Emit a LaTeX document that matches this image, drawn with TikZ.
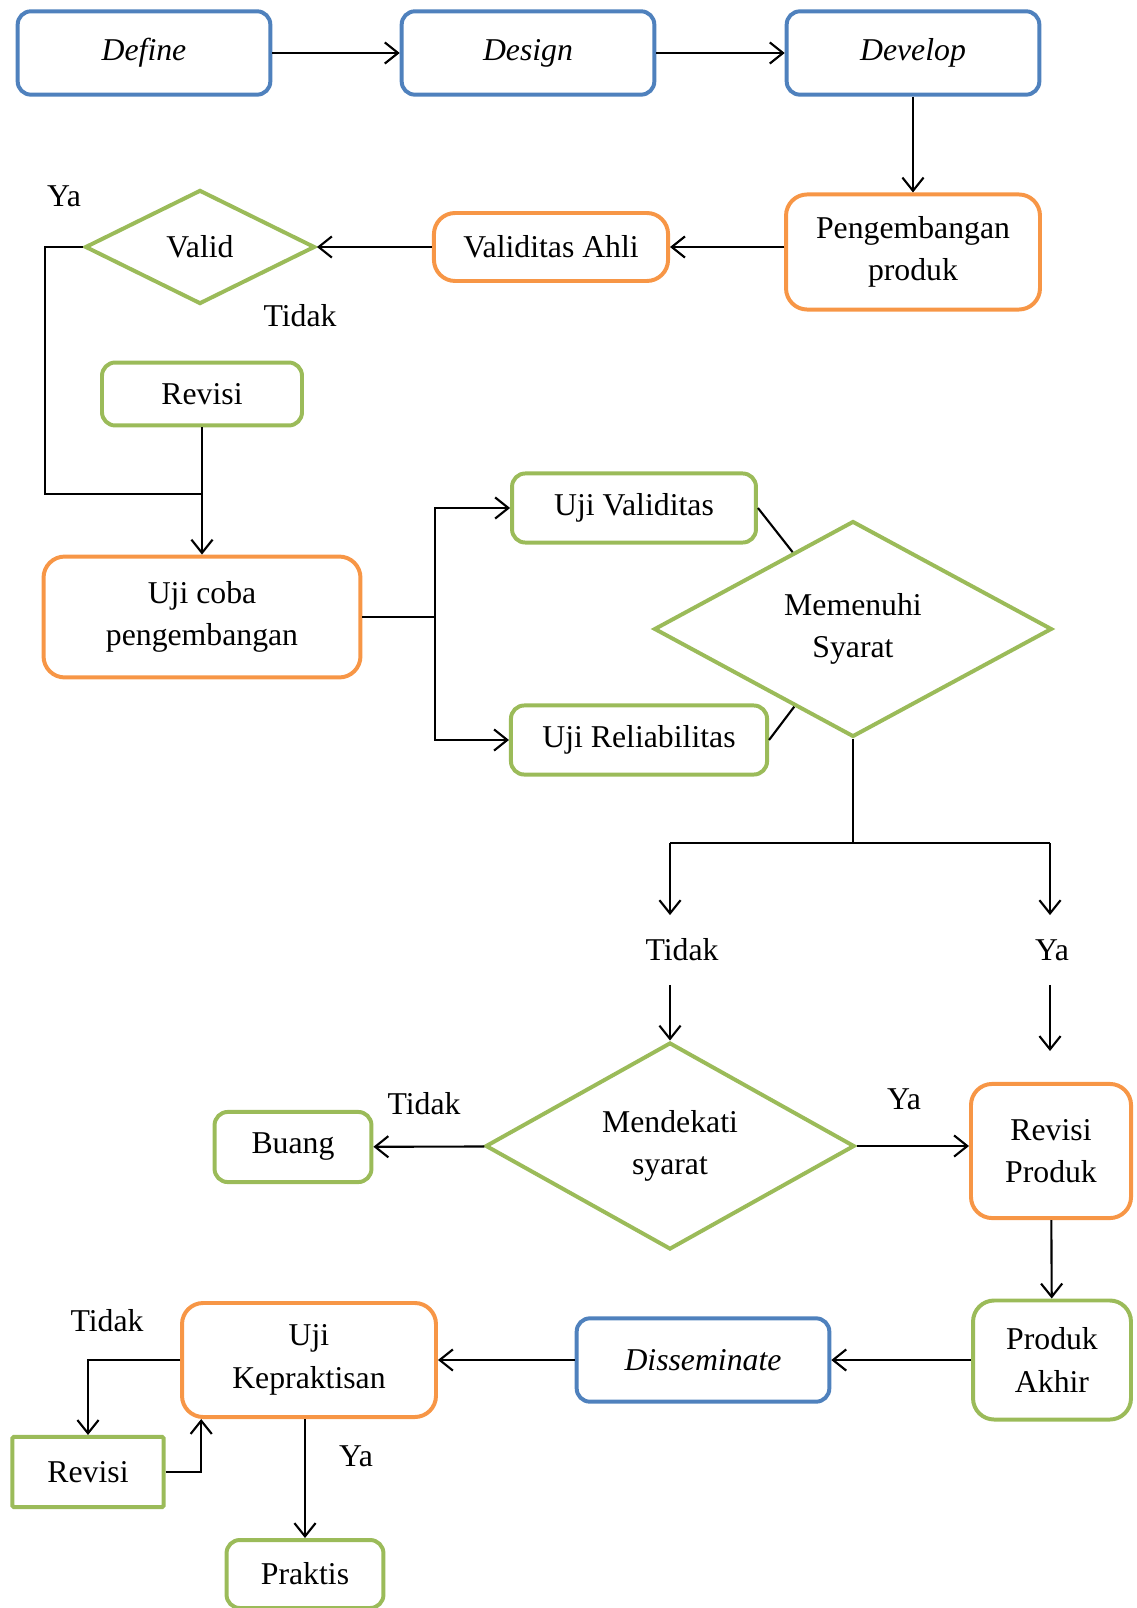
\documentclass[tikz,border=0pt]{standalone}
\usepackage{fontspec}
\setmainfont{Liberation Serif}
\usetikzlibrary{arrows.meta,positioning,calc,shapes.geometric}
\definecolor{StageBlue}{HTML}{4F81BD}
\definecolor{StepOrange}{HTML}{F79646}
\definecolor{CheckGreen}{HTML}{9BBB59}

\begin{document}
\begin{tikzpicture}[x=0.378pt,y=-0.378pt,>={Straight Barb[length=5pt,width=8pt]},
  txt/.style={font=\fontsize{12}{16}\selectfont,align=center},
  stage/.style={txt,draw=StageBlue,line width=1.5pt,rounded corners=5pt,
    font=\fontsize{12}{16}\selectfont\itshape,minimum width=95.5pt,minimum height=31.5pt},
  stepbox/.style={txt,draw=StepOrange,line width=1.5pt,rounded corners=8pt},
  checkbox/.style={txt,draw=CheckGreen,line width=1.5pt,rounded corners=5pt},
  decision/.style={txt,draw=CheckGreen,line width=1.5pt,diamond,inner sep=0pt},
  link/.style={line width=0.8pt}]
  \useasboundingbox (0,0) rectangle (1136,1608);

  % tahap utama
  \node[stage] (define) at (144,53) {Define};
  \node[stage] (design) at (528,53) {Design};
  \node[stage] (develop) at (913,53) {Develop};

  \node[stepbox,minimum width=96pt,minimum height=43.5pt] (produk) at (913,252) {Pengembangan\\produk};
  \node[stepbox,minimum width=88.5pt,minimum height=25.7pt] (ahli) at (551,247) {Validitas Ahli};
  \node[decision,minimum width=86.9pt,minimum height=43.1pt] (valid) at (200,247) {Valid};
  \node[checkbox,minimum width=75.6pt,minimum height=23.8pt] (revisiA) at (202,394) {Revisi};
  \node[stepbox,minimum width=119.8pt,minimum height=45.7pt] (ujicoba) at (202,617) {Uji coba\\pengembangan};

  \node[checkbox,minimum width=92.2pt,minimum height=26.1pt] (ujival) at (634,508) {Uji Validitas};
  \node[checkbox,minimum width=96.8pt,minimum height=26.1pt] (ujirel) at (639,740) {Uji Reliabilitas};
  \node[decision,minimum width=150.4pt,minimum height=81.6pt] (syarat) at (853,629) {Memenuhi\\Syarat};

  \node[decision,minimum width=139.5pt,minimum height=77.5pt] (dekat) at (670,1146) {Mendekati\\syarat};
  \node[checkbox,minimum width=59.3pt,minimum height=26.5pt] (buang) at (293,1147) {Buang};
  \node[stepbox,minimum width=60.5pt,minimum height=50.7pt] (revprod) at (1051,1151) {Revisi\\Produk};
  \node[checkbox,rounded corners=8pt,minimum width=59.7pt,minimum height=45pt] (akhir) at (1052,1360) {Produk\\Akhir};

  \node[stage] (dissem) at (703,1360) {Disseminate};
  \node[stepbox,minimum width=96pt,minimum height=43.1pt] (praktik) at (309,1360) {Uji\\Kepraktisan};
  \node[checkbox,rounded corners=0.5pt,minimum width=57.1pt,minimum height=26.5pt] (revisiB) at (88,1472) {Revisi};
  \node[checkbox,minimum width=59.3pt,minimum height=25.7pt] (praktis) at (305,1574) {Praktis};

  % label keputusan
  \node[txt] (yaA) at (64,196) {Ya};
  \node[txt] (tidakA) at (300,316) {Tidak};
  \node[txt,minimum height=26pt] (tidakB) at (682,950) {Tidak};
  \node[txt,minimum height=26pt] (yaB) at (1052,950) {Ya};
  \node[txt] (tidakC) at (424,1104) {Tidak};
  \node[txt] (yaC) at (904,1099) {Ya};
  \node[txt] (tidakD) at (107,1321) {Tidak};
  \node[txt] (yaD) at (356,1456) {Ya};

  \coordinate (yaturn) at (45,494);
  \coordinate (merge) at (202,494);
  \coordinate (split) at (435,617);
  \coordinate (fork) at (853,843);
  \coordinate (forkL) at (670,843);
  \coordinate (forkR) at (1050,843);

  \draw[->,link] (define) -- (design);
  \draw[->,link] (design) -- (develop);
  \draw[->,link] (develop) -- (produk);
  \draw[->,link] (produk.west |- ahli) -- (ahli);
  \draw[->,link] (ahli) -- (valid);
  \draw[link] (valid.west) -| (yaturn) -- (merge);
  \draw[->,link] (revisiA) -- (ujicoba);
  \draw[link] (ujicoba) -- (split);
  \draw[->,link] (split) |- (ujival.west);
  \draw[->,link] (split) |- (ujirel.west);
  \draw[link] (ujival.east) -- (syarat);
  \draw[link] (ujirel.east) -- (syarat);
  \draw[link] (syarat.south) -- (fork);
  \draw[link] (forkL) -- (forkR);
  \draw[->,link] (forkL) -- (forkL |- tidakB.north);
  \draw[->,link] (forkR) -- (forkR |- yaB.north);
  \draw[->,link] (forkL |- tidakB.south) -- (dekat.north);
  \draw[->,link,shorten >=11.7pt] (forkR |- yaB.south) -- (forkR |- revprod.north);
  \draw[->,link] (dekat) -- (buang);
  \draw[->,link] (dekat.east) -- (dekat.east -| revprod.west);
  \draw[->,link] (revprod) -- (akhir);
  \draw[->,link] (akhir) -- (dissem);
  \draw[->,link] (dissem) -- (praktik);
  \draw[->,link] (praktik.west) -| (revisiB.north);
  \draw[->,link] (revisiB.east) -| ([xshift=8pt]praktik.south west);
  \draw[->,link] (praktis.north |- praktik.south) -- (praktis.north);
\end{tikzpicture}
\end{document}
